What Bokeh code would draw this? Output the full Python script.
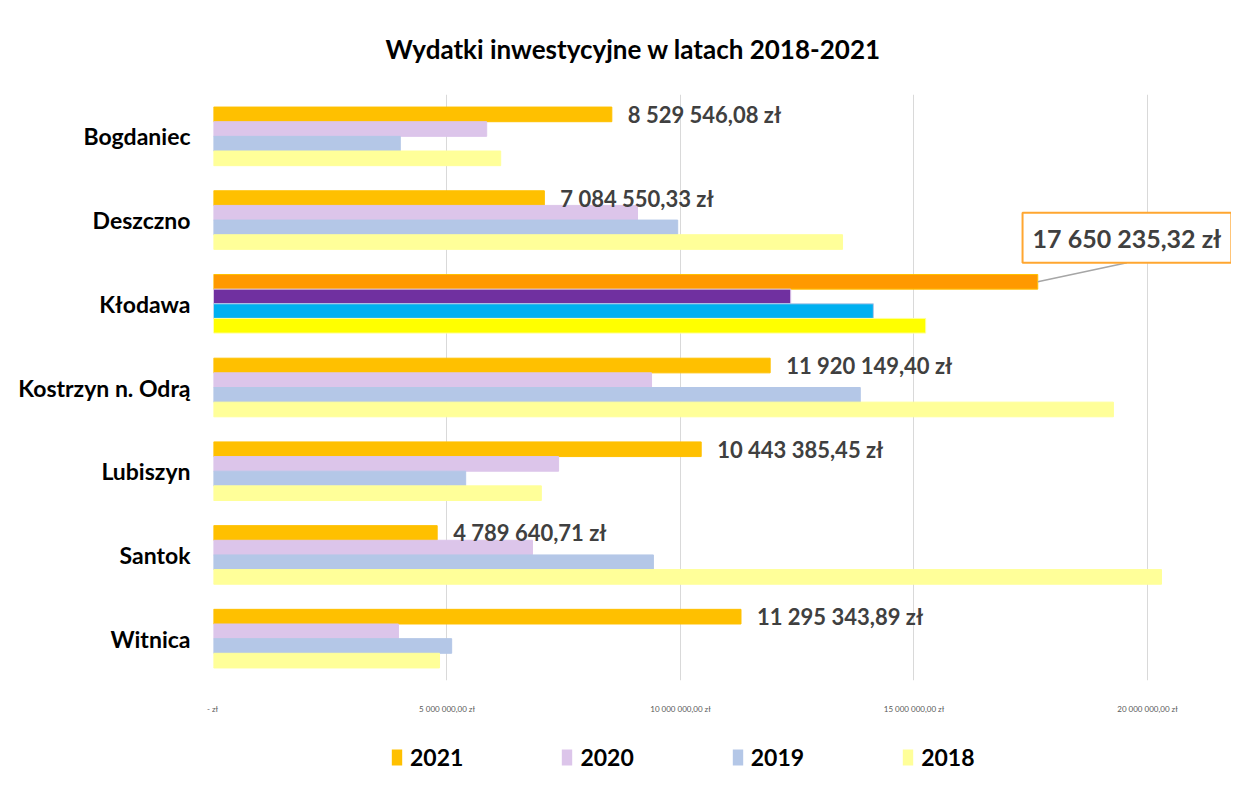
from bokeh.plotting import figure
from bokeh.layouts import column
from bokeh.models import (ColumnDataSource, FactorRange, Range1d, FixedTicker,
                          Label, Legend, LegendItem)
from bokeh.transform import dodge
from bokeh.core.properties import value
from bokeh.embed import file_html
from bokeh.resources import INLINE

# ---------------- data ----------------
gminy = ["Bogdaniec", "Deszczno", "Kłodawa", "Kostrzyn n. Odrą", "Lubiszyn", "Santok", "Witnica"]
y2021 = [8529546.08, 7084550.33, 17650235.32, 11920149.40, 10443385.45, 4789640.71, 11295343.89]
y2020 = [5850000, 9080000, 12360000, 9380000, 7390000, 6830000, 3960000]
y2019 = [4000000, 9940000, 14130000, 13850000, 5400000, 9420000, 5100000]
y2018 = [6150000, 13470000, 15250000, 19270000, 7020000, 20300000, 4840000]
years = ["2021", "2020", "2019", "2018"]
labels_2021 = ["8 529 546,08 zł", "7 084 550,33 zł", "17 650 235,32 zł", "11 920 149,40 zł",
               "10 443 385,45 zł", "4 789 640,71 zł", "11 295 343,89 zł"]
tick_values = [0, 5000000, 10000000, 15000000, 20000000]
tick_labels = ["-  zł", "5 000 000,00 zł", "10 000 000,00 zł", "15 000 000,00 zł", "20 000 000,00 zł"]
highlight = "Kłodawa"

# ---------------- styles ----------------
base_colors = {"2021": "#FFC000", "2020": "#DCC5EA", "2019": "#B4C7E7", "2018": "#FFFF99"}
hi_colors = {"2021": "#FF9900", "2020": "#7030A0", "2019": "#00B0F0", "2018": "#FFFF00"}
offsets = {"2021": 0.2625, "2020": 0.0875, "2019": -0.0875, "2018": -0.2625}
FONT = "Lato"
MAIN_H = 739
LEG_H = 32

series = {"2021": y2021, "2020": y2020, "2019": y2019, "2018": y2018}

factors = list(reversed(gminy))
p = figure(width=1231, height=MAIN_H, output_backend="svg", toolbar_location=None,
           y_range=FactorRange(factors=factors), x_range=Range1d(0, 21799000),
           min_border_left=213, min_border_right=0, min_border_top=94,
           min_border_bottom=MAIN_H - 680,
           title="Wydatki inwestycyjne w latach 2018-2021")

p.title.text_font = FONT
p.title.text_font_size = "26px"
p.title.text_font_style = "bold"
p.title.text_color = "#000000"
p.title.align = "left"
p.title.offset = 172
p.title.standoff = 59

sources = {}
for yr in years:
    vals = series[yr]
    cols = [hi_colors[yr] if g == highlight else base_colors[yr] for g in gminy]
    src = ColumnDataSource(dict(gmina=gminy, val=vals, color=cols))
    sources[yr] = src
    p.hbar(y=dodge("gmina", offsets[yr], range=p.y_range), right="val", left=0,
           height=0.175, source=src, fill_color="color", line_color=base_colors[yr],
           line_width=1)

# data labels for 2021 (except highlighted one)
lab_idx = [i for i, g in enumerate(gminy) if g != highlight]
lab_src = ColumnDataSource(dict(gmina=[gminy[i] for i in lab_idx],
                                val=[y2021[i] for i in lab_idx],
                                txt=[labels_2021[i] for i in lab_idx]))
p.text(x="val", y=dodge("gmina", offsets["2021"], range=p.y_range), text="txt",
       source=lab_src, x_offset=16, text_align="left", text_baseline="middle",
       text_font=value(FONT), text_font_style="bold", text_font_size="22px",
       text_color="#404040")

# callout for highlighted bar
hi = gminy.index(highlight)
hi_y = factors.index(highlight) + 0.5
hx = y2021[hi]
box_x = hx + 1910000
box_y = hi_y + 0.79
p.segment(x0=[hx], y0=[hi_y + offsets["2021"]], x1=[box_x], y1=[hi_y + 0.49],
          line_color="#A6A6A6", line_width=1.5)
p.add_layout(Label(x=box_x, y=box_y, text=labels_2021[hi], text_align="center",
                   text_baseline="middle", text_font=FONT, text_font_style="bold",
                   text_font_size="25px", text_color="#404040",
                   border_line_color="#FFA630", border_line_width=2,
                   background_fill_color="white", padding=10))

# axes
p.xaxis.ticker = FixedTicker(ticks=tick_values)
p.xaxis.major_label_overrides = {v: t for v, t in zip(tick_values, tick_labels)}
p.xaxis.axis_line_color = None
p.xaxis.major_tick_line_color = None
p.xaxis.minor_tick_line_color = None
p.xaxis.major_label_text_font = FONT
p.xaxis.major_label_text_font_size = "8px"
p.xaxis.major_label_text_color = "#595959"
p.xaxis.major_label_standoff = 17

p.yaxis.axis_line_color = None
p.yaxis.major_tick_line_color = None
p.yaxis.minor_tick_line_color = None
p.yaxis.major_label_text_font = FONT
p.yaxis.major_label_text_font_size = "23px"
p.yaxis.major_label_text_font_style = "bold"
p.yaxis.major_label_text_color = "#000000"
p.yaxis.major_label_standoff = 17

p.xgrid.grid_line_color = "#D9D9D9"
p.ygrid.grid_line_color = None
p.outline_line_color = None

# legend strip (separate small figure below the chart)
lg = figure(width=1231, height=LEG_H, output_backend="svg", toolbar_location=None,
            x_range=Range1d(0, 1), y_range=Range1d(0, 1),
            min_border_left=0, min_border_right=0, min_border_top=0, min_border_bottom=0)
lg.axis.visible = False
lg.grid.visible = False
lg.outline_line_color = None
items = []
for yr in years:
    r = lg.hbar(y="val", right="val", height=0.5, source=sources[yr],
                fill_color=base_colors[yr], line_color=None, visible=False)
    items.append(LegendItem(label=yr, renderers=[r], index=0))
legend = Legend(items=items, orientation="horizontal", location=(177, 0),
                glyph_width=13, glyph_height=20, label_standoff=7, spacing=97,
                label_text_font=FONT, label_text_font_style="bold",
                label_text_font_size="23px", label_text_color="#000000",
                border_line_color=None, background_fill_alpha=0, padding=2, margin=0,
                inactive_fill_alpha=0, click_policy="none")
lg.add_layout(legend, "center")

layout = column(p, lg, spacing=0)
open("out.html", "w").write(file_html(layout, INLINE))
